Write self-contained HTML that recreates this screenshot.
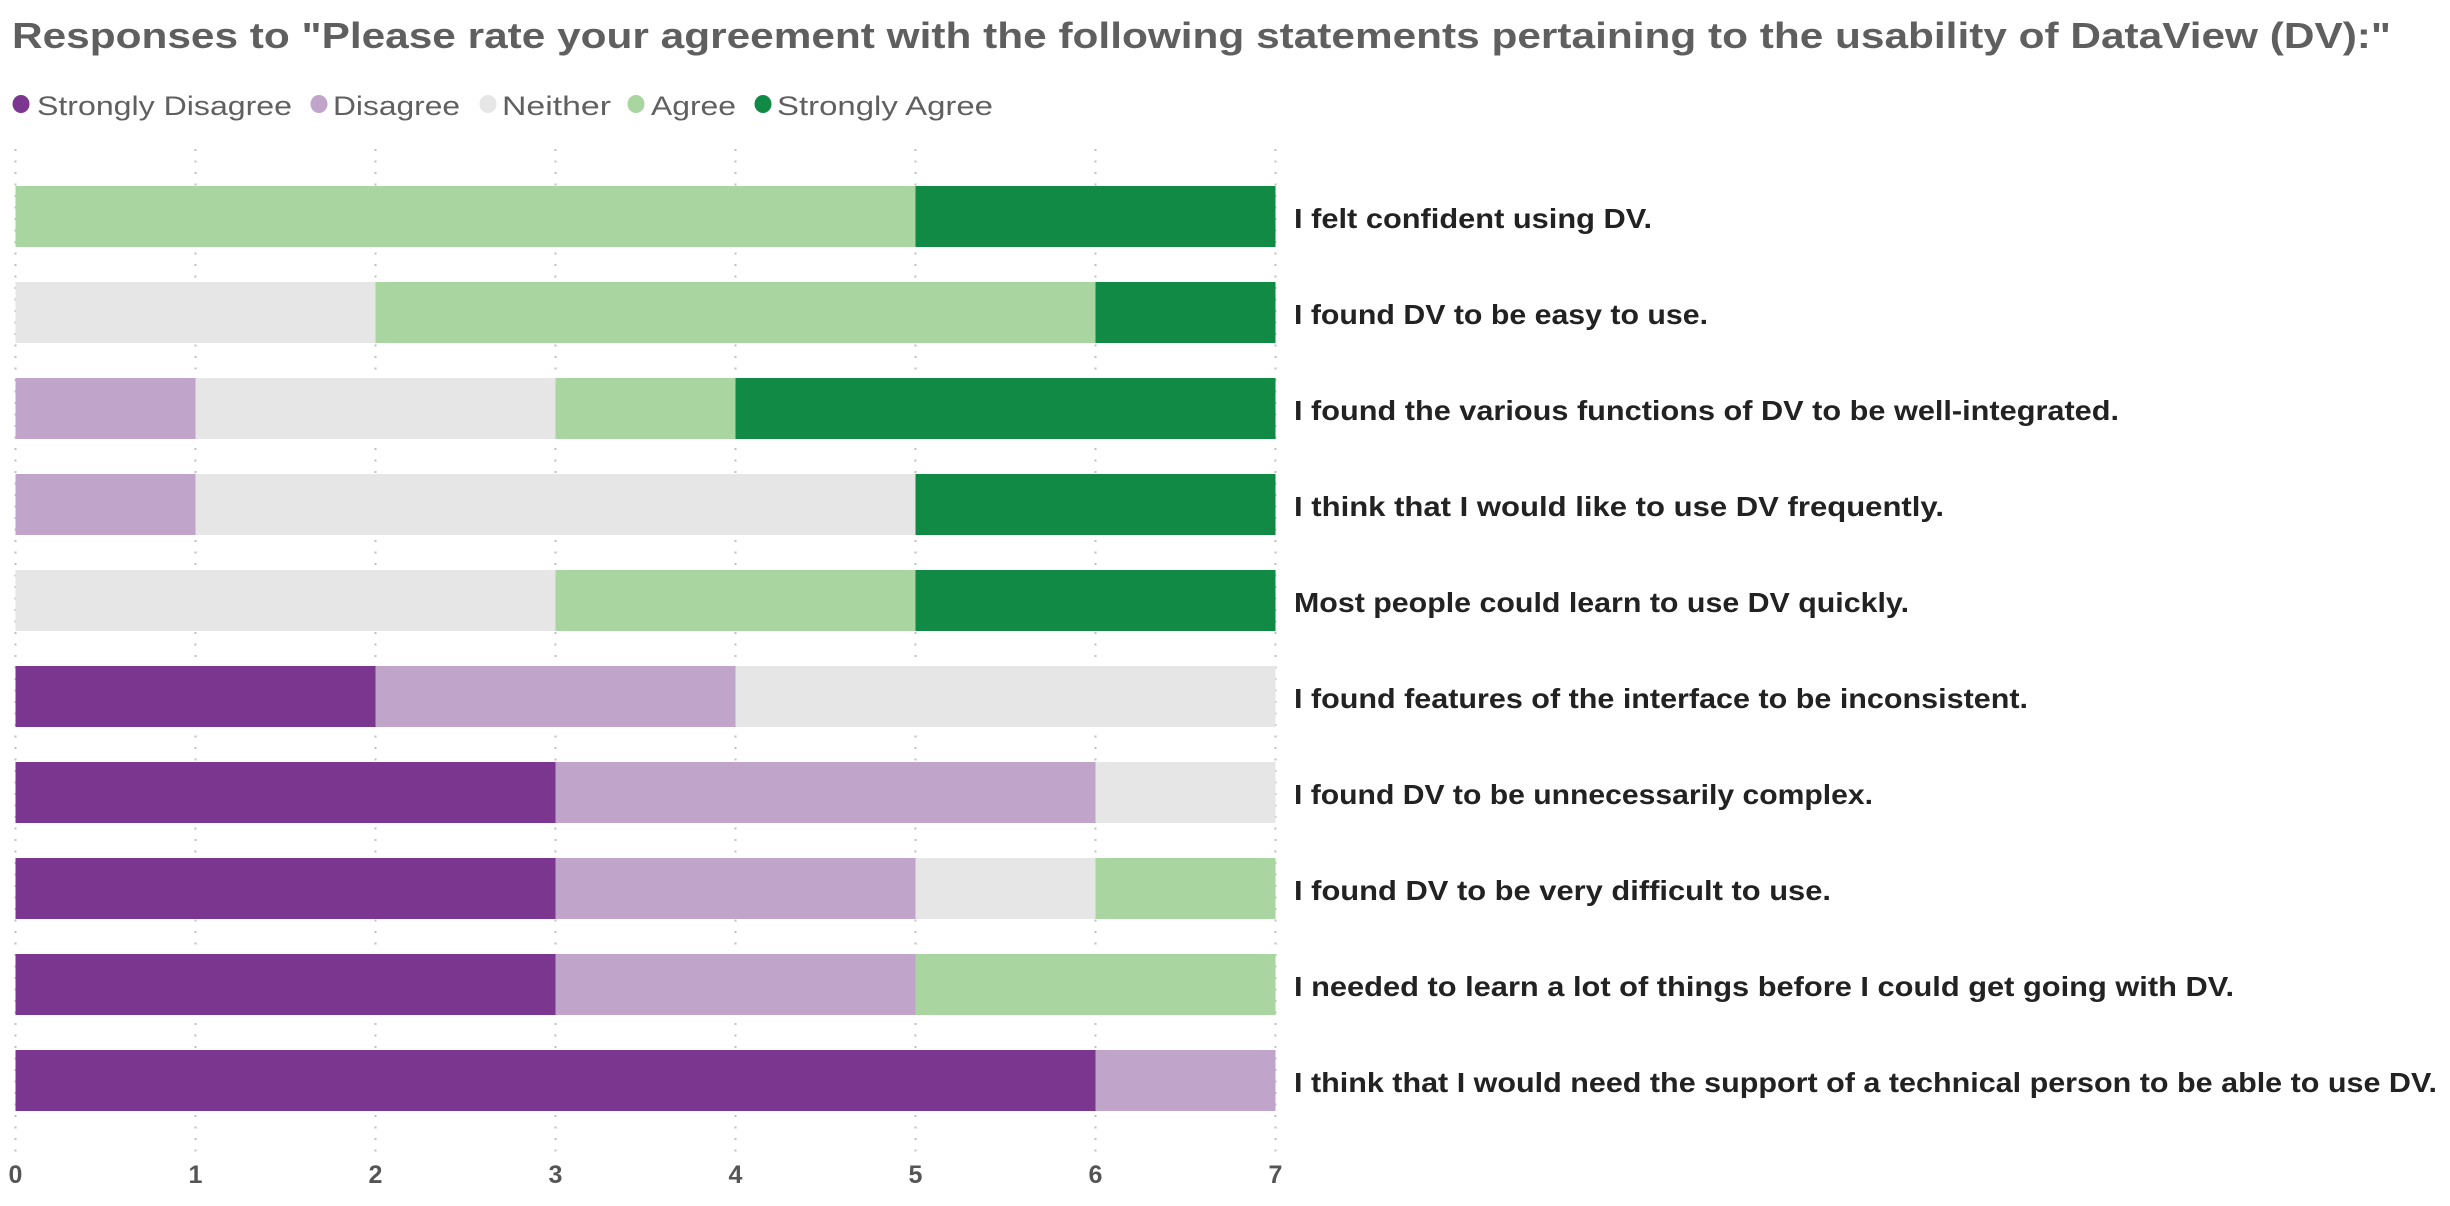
<!DOCTYPE html>
<html><head><meta charset="utf-8"><style>
html,body{margin:0;padding:0;background:#fff;width:2450px;height:1206px;overflow:hidden}
svg{display:block}
</style></head><body>
<svg id="c" width="2450" height="1206" xmlns="http://www.w3.org/2000/svg" font-family="'Liberation Sans', sans-serif">
<text x="12" y="48" font-size="36" font-weight="bold" fill="#5f5f5f" textLength="2379" lengthAdjust="spacingAndGlyphs">Responses to "Please rate your agreement with the following statements pertaining to the usability of DataView (DV):"</text>
<g font-size="27" fill="#606060">
<ellipse cx="21" cy="104" rx="8.5" ry="9" fill="#7B368F"/><text x="37" y="115" textLength="255" lengthAdjust="spacingAndGlyphs">Strongly Disagree</text>
<ellipse cx="319" cy="104" rx="8.5" ry="9" fill="#C1A4CA"/><text x="333" y="115" textLength="127" lengthAdjust="spacingAndGlyphs">Disagree</text>
<ellipse cx="488" cy="104" rx="8.5" ry="9" fill="#E6E6E6"/><text x="502" y="115" textLength="109" lengthAdjust="spacingAndGlyphs">Neither</text>
<ellipse cx="636" cy="104" rx="8.5" ry="9" fill="#A8D5A0"/><text x="651" y="115" textLength="85" lengthAdjust="spacingAndGlyphs">Agree</text>
<ellipse cx="763" cy="104" rx="8.5" ry="9" fill="#118A45"/><text x="777" y="115" textLength="216" lengthAdjust="spacingAndGlyphs">Strongly Agree</text>
</g>
<g id="grid" stroke="#c0c0c0" stroke-width="2" stroke-dasharray="2 9.5"></g>
<g id="bars"></g>
<g id="labels" font-size="28" font-weight="bold" fill="#222"></g>
<g id="ticks" font-size="25" font-weight="bold" fill="#555" text-anchor="middle"></g>
</svg>
<script>
var ns="http://www.w3.org/2000/svg";
function el(p,t,a,txt){var e=document.createElementNS(ns,t);for(var k in a)e.setAttribute(k,a[k]);if(txt)e.textContent=txt;document.getElementById(p).appendChild(e);}
var x0=15.5,u=180;
for(var i=0;i<=7;i++){el('grid','line',{x1:x0+i*u,x2:x0+i*u,y1:149,y2:1155});el('ticks','text',{x:x0+i*u,y:1183},String(i));}
var col=["#7B368F","#C1A4CA","#E6E6E6","#A8D5A0","#118A45"];
var data=[[0,0,0,5,2],[0,0,2,4,1],[0,1,2,1,3],[0,1,4,0,2],[0,0,3,2,2],[2,2,3,0,0],[3,3,1,0,0],[3,2,1,1,0],[3,2,0,2,0],[6,1,0,0,0]];
var labs=[["I felt confident using DV.",1652],["I found DV to be easy to use.",1708],["I found the various functions of DV to be well-integrated.",2119],["I think that I would like to use DV frequently.",1944],["Most people could learn to use DV quickly.",1909],["I found features of the interface to be inconsistent.",2028],["I found DV to be unnecessarily complex.",1873],["I found DV to be very difficult to use.",1831],["I needed to learn a lot of things before I could get going with DV.",2234],["I think that I would need the support of a technical person to be able to use DV.",2437]];
for(var r=0;r<10;r++){var y=186+r*96,s=0;
for(var c=0;c<5;c++){var v=data[r][c];if(v){el('bars','rect',{x:x0+s*u,y:y,width:v*u,height:61,fill:col[c]});s+=v;}}
el('labels','text',{x:1294,y:y+42,textLength:labs[r][1]-1294,lengthAdjust:"spacingAndGlyphs"},labs[r][0]);}
</script>
</body></html>
